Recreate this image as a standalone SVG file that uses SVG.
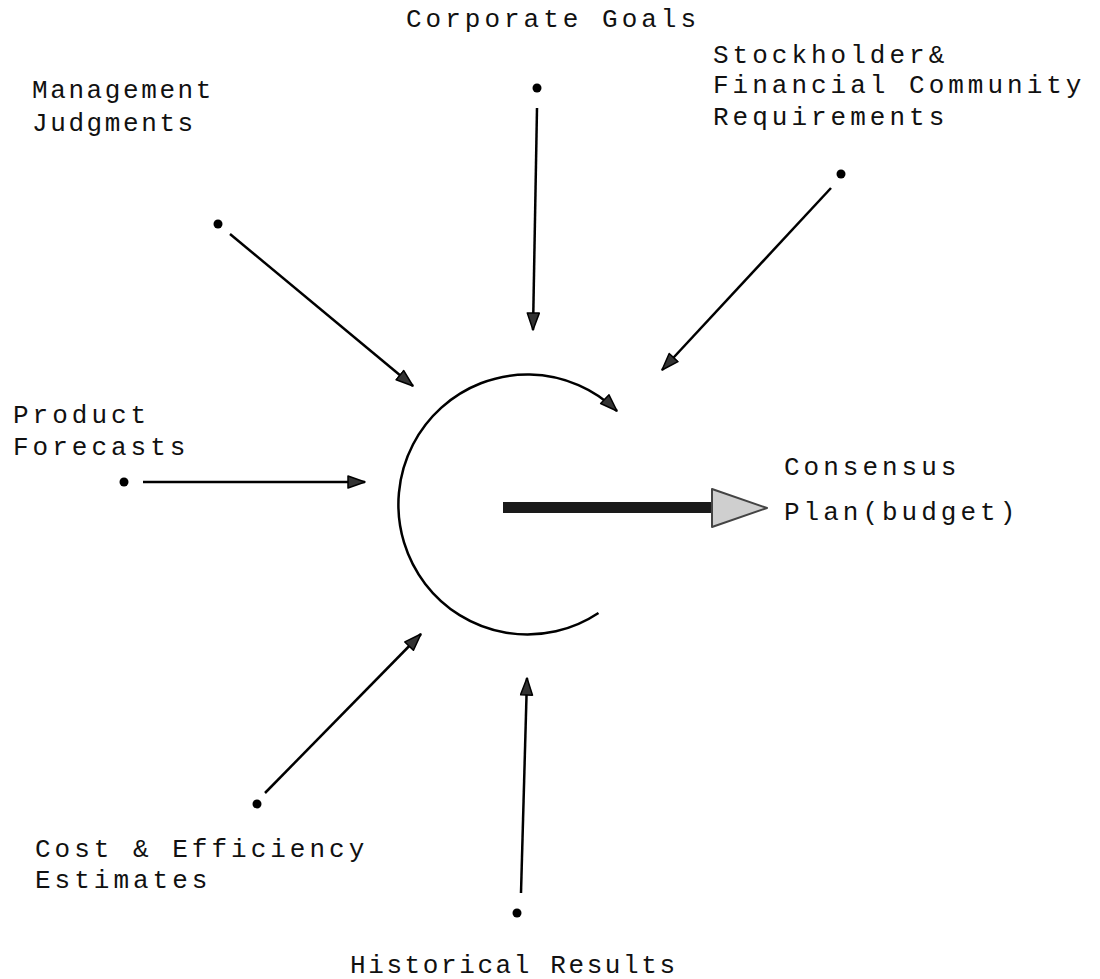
<svg xmlns="http://www.w3.org/2000/svg" width="1100" height="979" viewBox="0 0 1100 979">
<style>
.lbl{font-family:"Liberation Mono","DejaVu Sans Mono",monospace;font-size:26px;letter-spacing:4px;fill:#111}
.tight{letter-spacing:2.6px}
.con{stroke:#000;stroke-width:2.5;fill:none}
.dot{fill:#000}
</style>
<defs>
<marker id="ah" markerUnits="userSpaceOnUse" markerWidth="22" markerHeight="16" refX="18" refY="7" orient="auto">
<path d="M1,1 L18,7 L1,13 z" fill="#333" stroke="#000" stroke-width="1.5" stroke-linejoin="round"/>
</marker>
</defs>
<rect width="1100" height="979" fill="#fff"/>
<g id="corporate-goals">
<text class="lbl" x="406" y="27">Corporate Goals</text>
<circle class="dot" cx="537" cy="88" r="4.5"/>
</g>
<g id="management-judgments">
<text class="lbl tight" x="32" y="98">Management</text>
<text class="lbl tight" x="32" y="131">Judgments</text>
<circle class="dot" cx="218" cy="224" r="4.5"/>
</g>
<g id="stockholder">
<text class="lbl" x="713" y="63">Stockholder&amp;</text>
<text class="lbl" x="713" y="93">Financial Community</text>
<text class="lbl" x="713" y="125">Requirements</text>
<circle class="dot" cx="841" cy="174" r="4.5"/>
</g>
<g id="product-forecasts">
<text class="lbl" x="13" y="423">Product</text>
<text class="lbl" x="13" y="455">Forecasts</text>
<circle class="dot" cx="124" cy="482" r="4.5"/>
</g>
<g id="cost-efficiency">
<text class="lbl" x="35" y="857">Cost &amp; Efficiency</text>
<text class="lbl" x="35" y="888">Estimates</text>
<circle class="dot" cx="257" cy="804" r="4.5"/>
</g>
<g id="historical-results">
<text class="lbl tight" x="350" y="973">Historical Results</text>
<circle class="dot" cx="517" cy="913" r="4.5"/>
</g>
<g id="consensus-plan">
<text class="lbl" x="784" y="475">Consensus</text>
<text class="lbl" x="784" y="520">Plan(budget)</text>
</g>
<g id="process">
<path class="con" d="M598.5,613 A129,130 0 1 1 617,411" marker-end="url(#ah)"/>
</g>
<g id="connectors">
<line class="con" x1="230" y1="234" x2="413" y2="386" marker-end="url(#ah)"/>
<line class="con" x1="537" y1="108" x2="533" y2="330" marker-end="url(#ah)"/>
<line class="con" x1="831" y1="188" x2="662" y2="370" marker-end="url(#ah)"/>
<line class="con" x1="143" y1="482" x2="365" y2="482" marker-end="url(#ah)"/>
<line class="con" x1="265" y1="793" x2="421" y2="634" marker-end="url(#ah)"/>
<line class="con" x1="521" y1="893" x2="527" y2="678" marker-end="url(#ah)"/>
<g id="output-arrow">
<rect x="503" y="502" width="212" height="11" fill="#1a1a1a"/>
<path d="M712,489 L767,508 L712,527 z" fill="#cfcfcf" stroke="#444" stroke-width="2" stroke-linejoin="round"/>
</g>
</g>
</svg>
